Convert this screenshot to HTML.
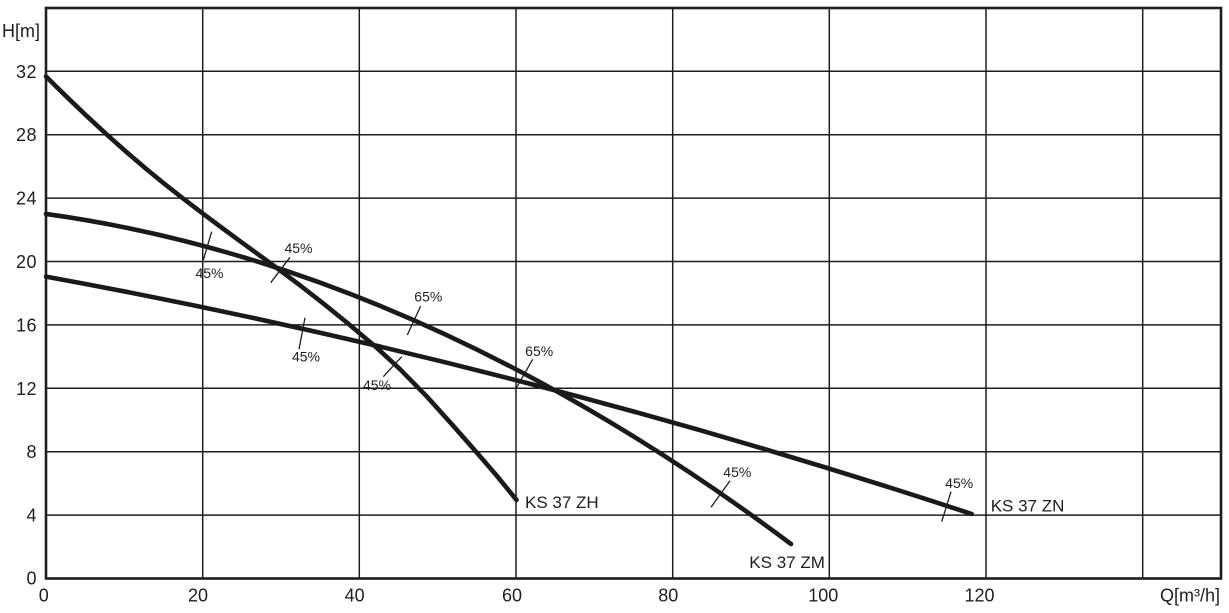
<!DOCTYPE html>
<html>
<head>
<meta charset="utf-8">
<style>
  html, body { margin:0; padding:0; background:#fff; }
  svg { display:block; }
  text { font-family: "Liberation Sans", "DejaVu Sans", sans-serif; fill:#1e1e1e; }
</style>
</head>
<body>
<svg width="1229" height="613" viewBox="0 0 1229 613" xmlns="http://www.w3.org/2000/svg">
  <rect x="0" y="0" width="1229" height="613" fill="#fff"/>
  <!-- grid -->
  <g stroke="#1e1e1e" stroke-width="1.5" fill="none">
    <line x1="202.7" y1="8" x2="202.7" y2="578.5"/>
    <line x1="359.3" y1="8" x2="359.3" y2="578.5"/>
    <line x1="516" y1="8" x2="516" y2="578.5"/>
    <line x1="672.7" y1="8" x2="672.7" y2="578.5"/>
    <line x1="829.3" y1="8" x2="829.3" y2="578.5"/>
    <line x1="986" y1="8" x2="986" y2="578.5"/>
    <line x1="1142.7" y1="8" x2="1142.7" y2="578.5"/>
    <line x1="46" y1="515.1" x2="1221" y2="515.1"/>
    <line x1="46" y1="451.7" x2="1221" y2="451.7"/>
    <line x1="46" y1="388.3" x2="1221" y2="388.3"/>
    <line x1="46" y1="324.9" x2="1221" y2="324.9"/>
    <line x1="46" y1="261.5" x2="1221" y2="261.5"/>
    <line x1="46" y1="198.1" x2="1221" y2="198.1"/>
    <line x1="46" y1="134.7" x2="1221" y2="134.7"/>
    <line x1="46" y1="71.3" x2="1221" y2="71.3"/>
  </g>
  <rect x="46" y="8" width="1175" height="570.5" fill="none" stroke="#1e1e1e" stroke-width="2.6"/>

  <!-- curves -->
  <g stroke="#1a1a1a" stroke-width="4.6" fill="none" stroke-linecap="round" stroke-linejoin="round">
    <path d="M46,276.6 Q508.85,361.3 971.7,514"/>
    <path d="M46,213.95 Q418.5,265.6 791,544"/>
    <polyline points="46,76.5 66,96.2 86,115.3 106,133.8 126,151.6 146,168.7 166,185.1 183,198.4 203,213.7 223,228.6 243,243.3 263,257.9 278,268.9 300,285.3 325,304.8 350,325.1 377,348 400,369.2 427,396.7 453,425.6 477,452.8 497,476 516.5,500"/>
  </g>

  <!-- efficiency ticks -->
  <g stroke="#1e1e1e" stroke-width="1.3">
    <line x1="211.7" y1="231.7" x2="203.3" y2="260"/>
    <line x1="290" y1="257.3" x2="270.7" y2="282.7"/>
    <line x1="305" y1="317.7" x2="299" y2="349.3"/>
    <line x1="401.7" y1="356.7" x2="383.3" y2="376.7"/>
    <line x1="420.7" y1="306" x2="407.3" y2="335"/>
    <line x1="532.7" y1="359.3" x2="516.7" y2="387.3"/>
    <line x1="730" y1="480.7" x2="711" y2="507.3"/>
    <line x1="951" y1="491.7" x2="941.7" y2="521.7"/>
  </g>
  <g font-size="14" text-anchor="middle">
    <text x="209.5" y="278">45%</text>
    <text x="298.5" y="253">45%</text>
    <text x="306" y="361.5">45%</text>
    <text x="377" y="390">45%</text>
    <text x="428.3" y="301.5">65%</text>
    <text x="539.2" y="356">65%</text>
    <text x="737.3" y="477">45%</text>
    <text x="959.2" y="488">45%</text>
  </g>

  <!-- curve labels -->
  <g font-size="17">
    <text x="525" y="508">KS 37 ZH</text>
    <text x="749.3" y="568">KS 37 ZM</text>
    <text x="990.7" y="511.7">KS 37 ZN</text>
  </g>

  <!-- y axis labels -->
  <g font-size="18" text-anchor="end" letter-spacing="0.5">
    <text x="37" y="77.8">32</text>
    <text x="37" y="141.2">28</text>
    <text x="37" y="204.6">24</text>
    <text x="37" y="268">20</text>
    <text x="37" y="331.4">16</text>
    <text x="37" y="394.8">12</text>
    <text x="37" y="458.2">8</text>
    <text x="37" y="521.6">4</text>
    <text x="37" y="584.6">0</text>
  </g>
  <text x="2" y="37" font-size="18">H[m]</text>

  <!-- x axis labels -->
  <g font-size="18" text-anchor="middle">
    <text x="43.7" y="601.5">0</text>
    <text x="198" y="601.5">20</text>
    <text x="354.7" y="601.5">40</text>
    <text x="512" y="601.5">60</text>
    <text x="668.3" y="601.5">80</text>
    <text x="823.3" y="601.5">100</text>
    <text x="979.5" y="601.5">120</text>
  </g>
  <text x="1220" y="601.5" font-size="18" text-anchor="end">Q[m³/h]</text>
</svg>
</body>
</html>
